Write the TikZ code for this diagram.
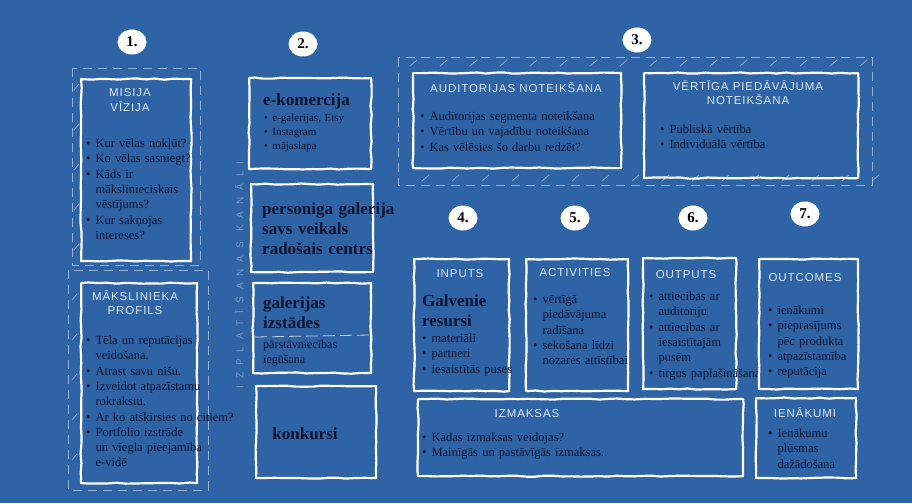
\documentclass[tikz,border=0pt]{standalone}
\usepackage{fontspec}
\setmainfont{Liberation Serif}
\newfontfamily\chalkfont[LetterSpace=8]{Liberation Sans}
\newfontfamily\chalkwide[LetterSpace=70]{Liberation Sans}
\usetikzlibrary{decorations.pathmorphing,positioning,shapes.geometric}
\definecolor{board}{RGB}{46,100,165}
\definecolor{ink}{RGB}{16,20,48}
% bullet line with hanging indent (via leftskip)
\newcommand{\bul}[1]{\par\leftskip=0.75em\relax\noindent\hspace*{-0.75em}%
    \makebox[0.75em][l]{\textbullet}#1\par}

\begin{document}
\pgfmathsetseed{7}
\begin{tikzpicture}[%
    x=1pt, y=-1pt,              % pixel-like units, y going down
    font=\fontsize{12.5}{15.3}\selectfont,
    ]
% -------------------------------------------------
% Styles for the chalk board
\tikzset{
chalk/.style={draw=white, line width=2.2pt, line join=round, decorate,
    decoration={random steps, segment length=9pt, amplitude=0.6pt}},
box/.style={chalk, anchor=north west, inner sep=0pt},
frame/.style={draw=white, opacity=.5, line width=1pt, dash pattern=on 9pt off 6pt},
hatch/.style={draw=white, opacity=.45, line width=.8pt},
badge/.style={fill=white, shape=ellipse, inner sep=1.5pt, minimum width=29pt, minimum height=25pt,
    font=\bfseries\fontsize{15}{15}\selectfont, text=black},
title/.style={text=white, opacity=.85, align=center, inner sep=0pt,
    font=\chalkfont\fontsize{11.5}{14.5}\selectfont},
txt/.style={text=ink, align=left, anchor=north west, inner sep=0pt, text width=#1},
small/.style={font=\fontsize{11}{14}\selectfont},
head/.style={font=\bfseries\fontsize{17}{20}\selectfont},
}
% -------------------------------------------------
% Board
\fill[board] (0,0) rectangle (912,503);
\useasboundingbox (0,0) rectangle (912,503);

% Dashed chalk frames and hatching
\draw[frame] (72,68) rectangle (200,265);
\draw[frame] (68,270) rectangle (208,490);
\draw[frame] (398,58) rectangle (872,185);
\foreach \x in {410,440,...,860} {
    \draw[hatch] (\x,66) -- ++(7,-6);
    \draw[hatch] (\x+12,181) -- ++(7,-6);
}
\foreach \y in {90,130,...,250} \draw[hatch] (74,\y) -- ++(5,-6);
\foreach \y in {300,340,...,480} \draw[hatch] (72,\y) -- ++(5,-6);

% -------------------------------------------------
% Number badges
\node[badge] (n1) at (132,42) {1.};
\node[badge] (n2) at (303,44) {2.};
\node[badge] (n3) at (637,40) {3.};
\node[badge] (n4) at (463,218) {4.};
\node[badge] (n5) at (575,218) {5.};
\node[badge] (n6) at (693,218) {6.};
\node[badge] (n7) at (805,214) {7.};

% -------------------------------------------------
% Column 1
\node[box, minimum width=110pt, minimum height=182pt] (misija) at (80,78) {};
\node[title] (misija-t) at (130,100) {MISIJA\\VĪZIJA};
\node[txt=115pt] (misija-x) at (86,132) {%
    \bul{Kur vēlas nokļūt?}
    \bul{Ko vēlas sasniegt?}
    \bul{Kāds ir\newline mākslinieciskais\newline vēstījums?}
    \bul{Kur sakņojas\newline intereses?}};

\node[box, minimum width=116pt, minimum height=200pt] (profils) at (80,282) {};
\node[title] (profils-t) at (135,303) {MĀKSLINIEKA\\PROFILS};
\node[txt=160pt] (profils-x) at (86,329) {%
    \bul{Tēla un reputācijas\newline veidošana.}
    \bul{Atrast savu nišu.}
    \bul{Izveidot atpazīstamu\newline rokrakstu.}
    \bul{Ar ko atšķirsies no citiem?}
    \bul{Portfolio izstrāde\newline un viegla pieejamība\newline e-vidē}};

% -------------------------------------------------
% Column 2
\node[title, rotate=90, opacity=.35, font=\chalkwide\fontsize{10}{10}\selectfont] (kanali) at (239,275) {IZPLATĪŠANAS KANĀLI};

\node[box, minimum width=122pt, minimum height=91pt] (ekom) at (248,77) {};
\node[txt=110pt, head] (ekom-h) at (263,94) {e-komercija};
\node[txt=110pt, small] (ekom-x) at (264,107) {%
    \bul{e-galerijas, Etsy}
    \bul{Instagram}
    \bul{mājaslapa}};

\node[box, minimum width=122pt, minimum height=88pt] (galerija) at (250,183) {};
\node[txt=150pt, head] (galerija-x) at (262,203) {personiga galerija\\savs veikals\\radošais centrs};

\node[box, minimum width=118pt, minimum height=90pt] (izstades) at (252,282) {};
\node[txt=100pt, head] (izstades-h) at (263,297) {galerijas\\izstādes};
\coordinate (iz1) at (255,337);
\coordinate (iz2) at (370,335);
\draw[hatch, opacity=.7, dash pattern=on 12pt off 5pt] (iz1) -- (iz2);
\node[txt=105pt, font=\fontsize{12}{14.5}\selectfont] (izstades-x) at (263,340) {pārstāvniecības\\iegūšana};

\node[box, minimum width=120pt, minimum height=92pt] (konkursi) at (255,385) {};
\node[head, text=ink] (konkursi-x) at (305,434) {konkursi};

% -------------------------------------------------
% Section 3
\node[box, minimum width=208pt, minimum height=95pt] (auditorija) at (412,72) {};
\node[title] (auditorija-t) at (516,88) {AUDITORIJAS NOTEIKŠANA};
\node[txt=200pt] (auditorija-x) at (420,105) {%
    \bul{Auditorijas segmenta noteikšana}
    \bul{Vērtību un vajadību noteikšana}
    \bul{Kas vēlēsies šo darbu redzēt?}};

\node[box, minimum width=214pt, minimum height=105pt] (piedavajums) at (643,72) {};
\node[title] (piedavajums-t) at (748,93) {VĒRTĪGA PIEDĀVĀJUMA\\NOTEIKŠANA};
\node[txt=180pt] (piedavajums-x) at (660,118) {%
    \bul{Publiskā vērtība}
    \bul{Individuālā vērtība}};

% -------------------------------------------------
% Row of four boxes
\node[box, minimum width=95pt, minimum height=132pt] (inputs) at (413,258) {};
\node[title] (inputs-t) at (460,274) {INPUTS};
\node[txt=95pt, head] (inputs-h) at (422,295) {Galvenie\\resursi};
\node[txt=100pt] (inputs-x) at (422,327) {%
    \bul{materiāli}
    \bul{partneri}
    \bul{iesaistītās puses}};

\node[box, minimum width=102pt, minimum height=132pt] (activities) at (525,258) {};
\node[title] (activities-t) at (575,273) {ACTIVITIES};
\node[txt=110pt] (activities-x) at (533,288) {%
    \bul{vērtīgā\newline piedāvājuma\newline radīšana}
    \bul{sekošana līdzi\newline nozares attīstībai}};

\node[box, minimum width=93pt, minimum height=131pt] (outputs) at (642,257) {};
\node[title] (outputs-t) at (686,275) {OUTPUTS};
\node[txt=130pt] (outputs-x) at (649,285) {%
    \bul{attiecibas ar\newline auditoriju}
    \bul{attiecibas ar\newline iesaistītajām\newline pusēm}
    \bul{tirgus paplašināšana}};

\node[box, minimum width=99pt, minimum height=130pt] (outcomes) at (758,258) {};
\node[title] (outcomes-t) at (805,278) {OUTCOMES};
\node[txt=100pt] (outcomes-x) at (768,299) {%
    \bul{ienākumi}
    \bul{pieprasījums\newline pēc produkta}
    \bul{atpazīstamība}
    \bul{reputācija}};

% -------------------------------------------------
% Bottom row
\node[box, minimum width=325pt, minimum height=77pt] (izmaksas) at (417,398) {};
\node[title] (izmaksas-t) at (527,414) {IZMAKSAS};
\node[txt=300pt] (izmaksas-x) at (422,426) {%
    \bul{Kādas izmaksas veidojas?}
    \bul{Mainīgās un pastāvīgās izmaksas.}};

\node[box, minimum width=100pt, minimum height=80pt] (ienakumi) at (755,397) {};
\node[title] (ienakumi-t) at (805,413) {IENĀKUMI};
\node[txt=95pt] (ienakumi-x) at (768,422) {%
    \bul{Ienākumu\newline plūsmas\newline dažādošana}};

\end{tikzpicture}
\end{document}
